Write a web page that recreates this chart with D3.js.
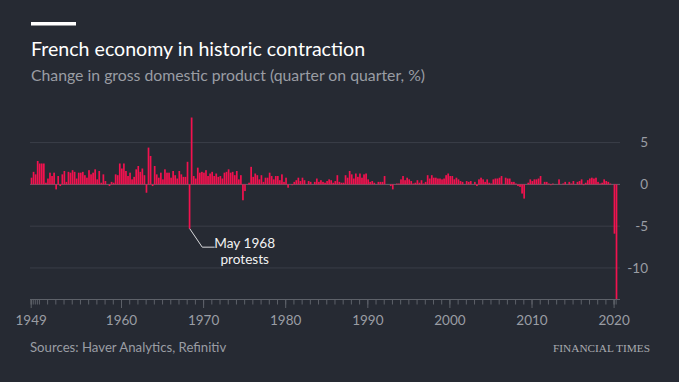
<!DOCTYPE html>
<html>
<head>
<meta charset="utf-8">
<script src="https://cdn.jsdelivr.net/npm/d3@7"></script>
<style>
  html, body { margin: 0; padding: 0; background: #262a33; }
  svg { display: block; }
  .axis text { font-family: Lato, 'Noto Sans', sans-serif; fill: #9a9da4; }
</style>
</head>
<body>
<div id="chart"></div>
<script>
// quarter on quarter change in French GDP, % (4 values per year)
const startYear = 1949;
const gdpChange = [
  0.8, 1.5, 1.2, 2.8,    // 1949
  2.5, 2.5, 2.5, 0.2,    // 1950
  0.7, 1.4, 1.0, 1.4,
  -0.6, 1.0, -0.2, 1.2,
  1.6, 0.3, 1.5, 1.4,
  1.7, 1.5, 0.7, 1.4,
  1.4, 1.5, 1.1, 0.8,    // 1955
  1.7, 1.2, 1.4, 1.8,
  0.6, 1.6, 0.2, 1.2,
  0.4, 0.0, -0.2, 0.3,
  0.2, 1.2, 1.1, 2.5,
  1.9, 2.5, 1.6, 1.0,    // 1960
  1.4, 0.6, 0.9, 1.8,
  2.2, 1.5, 1.9, 1.1,
  -1.0, 4.4, 3.4, -0.2,
  2.2, 1.2, 0.8, 1.4,
  0.6, 1.8, 1.4, 1.4,    // 1965
  0.8, 1.6, 1.1, 0.7,
  1.6, 1.2, 0.9, 0.9,
  2.7, -5.3, 8.0, 1.0,
  0.7, 2.0, 1.4, 1.5,
  1.4, 1.7, 1.0, 1.3,    // 1970
  1.5, 1.0, 1.3, 0.9,
  1.0, 0.7, 1.4, 1.5,
  1.8, 1.4, 1.5, 1.1,
  1.6, 0.6, 1.1, -1.9,
  -0.8, 0.0, 0.2, 2.1,   // 1975
  0.9, 1.3, 1.1, 0.6,
  1.1, 0.3, 0.8, 0.8,
  1.4, 1.0, 0.6, 1.0,
  1.0, 0.5, 1.2, 0.3,
  0.8, -0.4, 0.0, -0.1,  // 1980
  0.3, 0.5, 0.8, 0.4,
  0.8, 0.5, 0.0, 0.4,
  0.3, 0.0, 0.3, 0.7,
  0.3, 0.5, 0.3, 0.2,
  0.4, 0.6, 0.5, 0.2,    // 1985
  0.4, 1.1, 0.3, 0.2,
  0.2, 1.1, 0.8, 1.6,
  1.2, 0.7, 1.3, 0.9,
  1.3, 0.8, 1.2, 1.3,
  0.6, 0.3, 0.4, 0.2,    // 1990
  0.0, 0.3, 0.3, 0.3,
  1.0, 0.0, 0.0, -0.2,
  -0.6, 0.0, 0.1, 0.1,
  0.6, 1.0, 0.5, 0.8,
  0.6, 0.4, 0.1, 0.2,    // 1995
  0.5, 0.2, 0.5, 0.1,
  0.3, 1.1, 0.7, 1.1,
  0.8, 0.8, 0.7, 0.7,
  0.6, 0.7, 1.1, 1.3,
  1.0, 1.0, 0.6, 0.8,    // 2000
  0.6, 0.4, 0.3, 0.0,
  0.4, 0.3, 0.4, 0.0,
  0.3, -0.2, 0.6, 0.8,
  0.6, 0.3, 0.6, 0.2,
  0.1, 0.6, 0.7, 0.7,    // 2005
  0.8, 1.0, 0.0, 0.8,
  0.7, 0.7, 0.3, 0.3,
  0.1, -0.2, -0.3, -1.1,
  -1.7, 0.0, 0.2, 0.6,
  0.4, 0.6, 0.6, 0.7,    // 2010
  1.0, 0.0, 0.3, 0.3,
  0.1, -0.1, 0.1, 0.0,
  0.0, 0.6, 0.0, 0.1,
  0.3, 0.0, 0.3, 0.1,
  0.4, 0.0, 0.3, 0.4,    // 2015
  0.6, -0.1, 0.2, 0.5,
  0.7, 0.8, 0.7, 0.8,
  0.3, 0.1, 0.2, 0.6,
  0.4, 0.3, 0.1, 0.0,
  -5.9, -13.8            // 2020
];

const labelYears = [1949, 1960, 1970, 1980, 1990, 2000, 2010, 2020];
const yTicks = [5, 0, -5, -10];

const title = 'French economy in historic contraction';
const subtitle = 'Change in gross domestic product (quarter on quarter, %)';
const source = 'Sources: Haver Analytics, Refinitiv';
const brand = 'FINANCIAL TIMES';
const note = ['May 1968', 'protests'];
const noteQuarter = [1968, 2];

const width = 679;
const height = 382;
const barColor = '#f2124f';

const data = gdpChange.map((v, i) => ({
  date: new Date(startYear + Math.floor(i / 4), (i % 4) * 3, 1),
  next: new Date(startYear + Math.floor((i + 1) / 4), ((i + 1) % 4) * 3, 1),
  value: v
}));

const svg = d3.select('#chart').append('svg')
  .attr('width', width)
  .attr('height', height);

svg.append('rect').attr('width', width).attr('height', height).attr('fill', '#262a33');

/* ---------- header ---------- */
svg.append('rect')
  .attr('x', 31).attr('y', 22).attr('width', 45).attr('height', 3.5)
  .attr('fill', '#ffffff');

svg.append('text')
  .attr('x', 31).attr('y', 56)
  .style('font-family', 'Lato, sans-serif')
  .style('font-size', '19.6px')
  .attr('fill', '#ffffff')
  .text(title);

svg.append('text')
  .attr('x', 31).attr('y', 81)
  .style('font-family', 'Lato, sans-serif')
  .style('font-size', '15.8px')
  .attr('fill', '#9a9da4')
  .text(subtitle);

/* ---------- scales ---------- */
const x = d3.scaleTime()
  .domain([new Date(startYear, 0, 1), new Date(2020, 6, 1)])
  .range([30.7, 617.7]);

const y = d3.scaleLinear()
  .domain([-13.8, 8.9])
  .range([299.7, 110]);

const gridLeft = 30, gridRight = 620;

/* ---------- grid ---------- */
svg.append('g').attr('class', 'grid')
  .selectAll('line')
  .data(yTicks)
  .enter()
  .append('line')
  .attr('x1', gridLeft).attr('x2', gridRight)
  .attr('y1', d => y(d)).attr('y2', d => y(d))
  .attr('stroke', d => d === 0 ? '#62666e' : '#3a3e48')
  .attr('stroke-width', 1);

svg.append('g')
  .attr('class', 'axis axis--y')
  .attr('transform', 'translate(648,0)')
  .call(d3.axisLeft(y).tickValues(yTicks).tickSize(0).tickPadding(0)
    .tickFormat(d => String(d)))
  .call(g => g.select('.domain').remove())
  .selectAll('text')
  .style('font-size', '13.5px');

/* ---------- bars ---------- */
svg.append('g').attr('class', 'bars')
  .selectAll('rect')
  .data(data)
  .enter()
  .append('rect')
  .attr('x', d => x(d.date))
  .attr('width', d => Math.max(0.8, x(d.next) - x(d.date) - 0.35))
  .attr('y', d => y(Math.max(0, d.value)))
  .attr('height', d => Math.abs(y(d.value) - y(0)))
  .attr('fill', barColor);

/* ---------- x axis ---------- */
const axisY = 299.5;
const years = d3.range(startYear, 2021).map(yr => new Date(yr, 0, 1));
const edgeQuarters = data.filter(d => d.date.getFullYear() === startYear || d.date.getFullYear() === 2020)
  .map(d => d.date);

const xAxisG = svg.append('g').attr('class', 'axis axis--x')
  .attr('transform', 'translate(0,' + axisY + ')');

xAxisG.append('g')
  .call(d3.axisBottom(x).tickValues(years.concat(edgeQuarters)).tickSize(5).tickFormat(''))
  .call(g => g.select('.domain').remove())
  .selectAll('line').attr('stroke', '#5d6169');

xAxisG.append('g')
  .call(d3.axisBottom(x).tickValues(labelYears.map(yr => new Date(yr, 0, 1)))
    .tickSize(8.5).tickPadding(7).tickFormat(d3.timeFormat('%Y')))
  .call(g => g.select('.domain').remove())
  .call(g => g.selectAll('line').attr('stroke', '#5d6169'))
  .selectAll('text')
  .style('font-size', '13.5px');

xAxisG.append('line')
  .attr('x1', gridLeft).attr('x2', gridRight)
  .attr('stroke', '#5d6169');

/* ---------- annotation ---------- */
const noteD = data.find(d => d.date.getFullYear() === noteQuarter[0] && d.date.getMonth() === (noteQuarter[1] - 1) * 3);
const nx = x(noteD.date) + 1;
const ny = y(noteD.value);
svg.append('path')
  .attr('d', `M${nx},${ny} L${nx + 12.5},${ny + 18.5} L${nx + 25},${ny + 18.5}`)
  .attr('fill', 'none')
  .attr('stroke', '#d8d9dc')
  .attr('stroke-width', 1);

svg.append('text')
  .attr('x', nx + 55).attr('y', ny + 19)
  .attr('text-anchor', 'middle')
  .style('font-family', 'Lato, sans-serif')
  .style('font-size', '13.6px')
  .attr('fill', '#f2f2f2')
  .selectAll('tspan')
  .data(note)
  .enter()
  .append('tspan')
  .attr('x', nx + 55)
  .attr('dy', (d, i) => i === 0 ? 0 : 16)
  .text(d => d);

/* ---------- footer ---------- */
svg.append('text')
  .attr('x', 30).attr('y', 352)
  .style('font-family', 'Lato, sans-serif')
  .style('font-size', '13.2px')
  .attr('fill', '#9a9da4')
  .text(source);

svg.append('text')
  .attr('x', 650).attr('y', 351.5)
  .attr('text-anchor', 'end')
  .style('font-family', "'Liberation Serif', serif")
  .style('font-size', '11.3px')
  .attr('fill', '#a9abb0')
  .text(brand);
</script>
</body>
</html>
